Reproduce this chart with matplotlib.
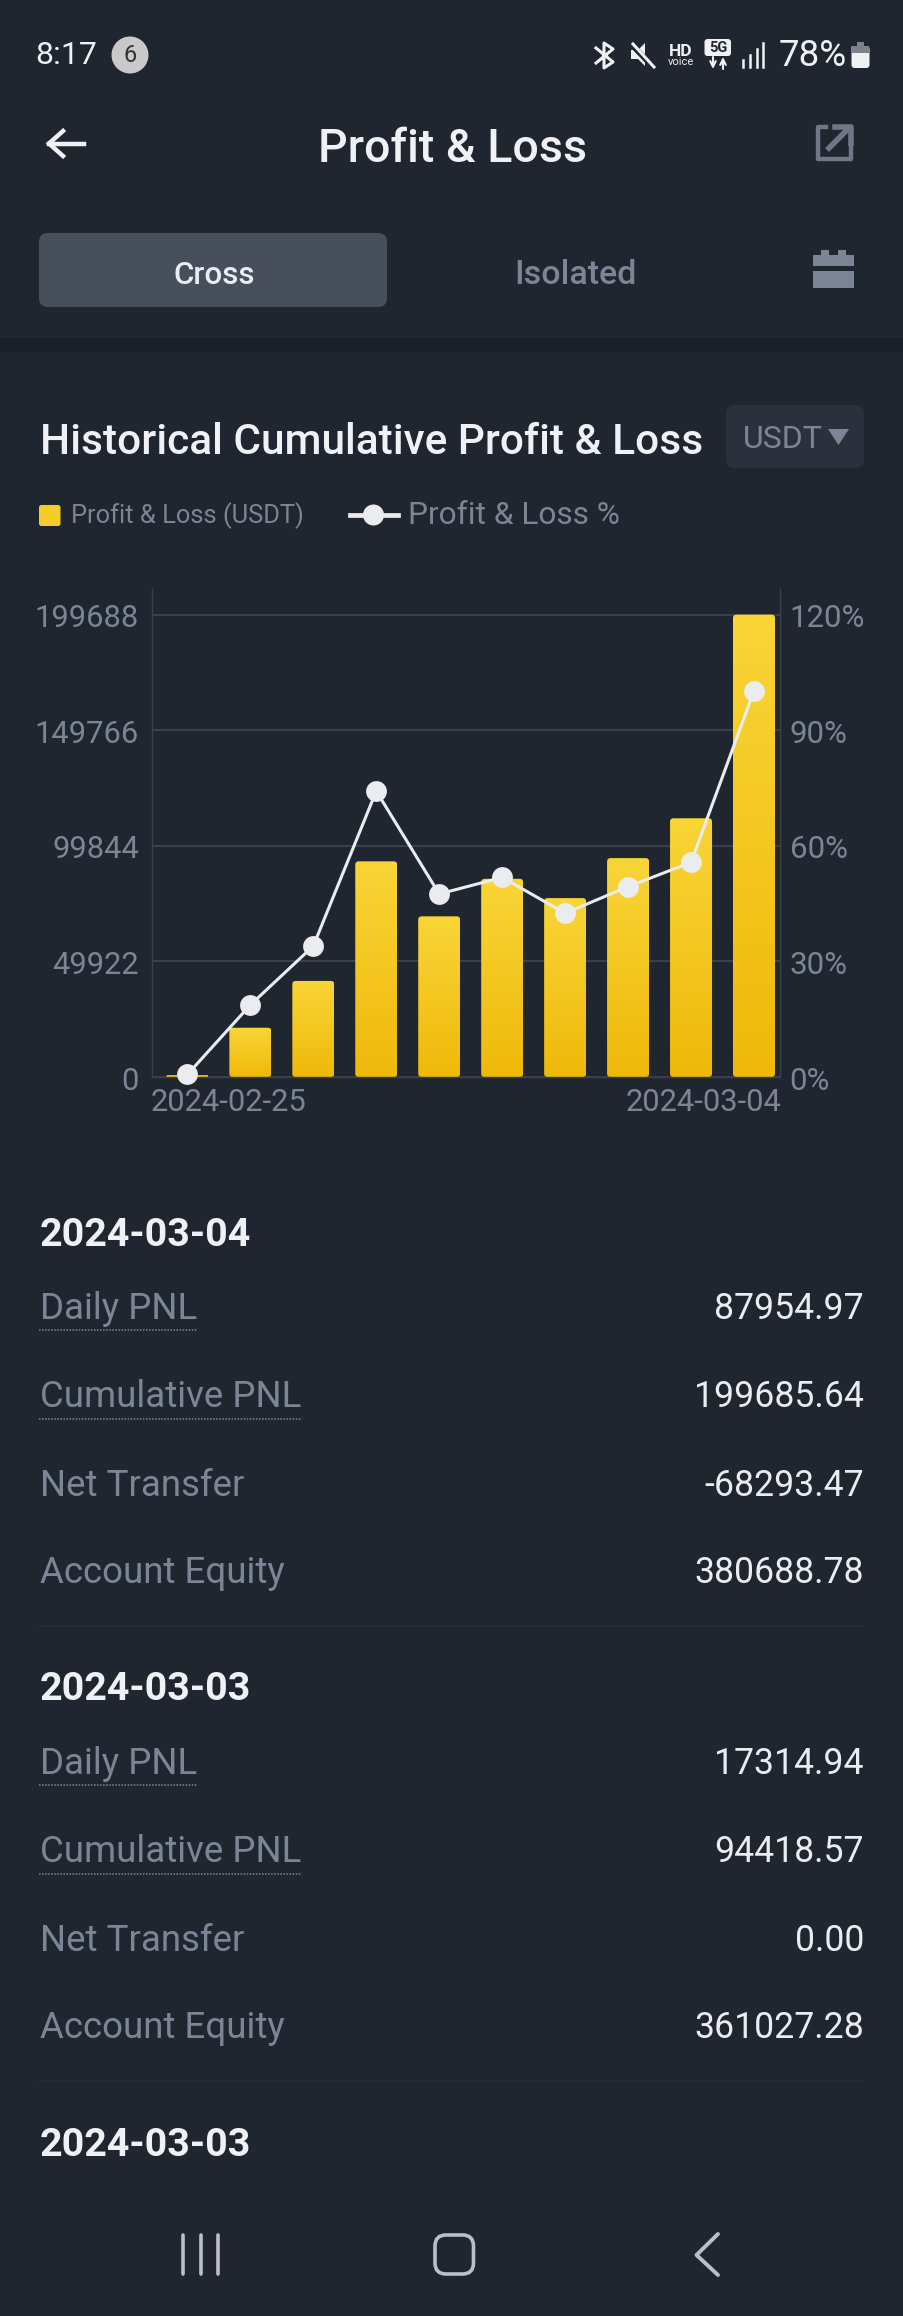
import numpy as np
import matplotlib
matplotlib.use('Agg')
import matplotlib.pyplot as plt
from matplotlib.colors import to_rgb
from matplotlib.patches import FancyBboxPatch, Rectangle, Ellipse, Polygon
from matplotlib.transforms import ScaledTranslation

plt.rcParams['font.family'] = ['Roboto', 'DejaVu Sans']

# chart data
pnl_usdt = [800, 21280, 41480, 93135, 69390, 85580, 77255, 94530, 111730, 199688]
pnl_pct = [0.65, 18.7, 34.0, 74.2, 47.5, 51.8, 42.5, 49.4, 55.7, 100.2]
left_ticks = [0, 49922, 99844, 149766, 199688]
right_ticks = [0, 30, 60, 90, 120]
right_labels = ['0%', '30%', '60%', '90%', '120%']
date_labels = ['2024-02-25', '2024-03-04']

# list under the chart
row_names = ['Daily PNL', 'Cumulative PNL', 'Net Transfer', 'Account Equity']
section_dates = ['2024-03-04', '2024-03-03', '2024-03-03']
section_rows = [
    ['87954.97', '199685.64', '-68293.47', '380688.78'],
    ['17314.94', '94418.57', '0.00', '361027.28'],
]

BG = '#1f2630'
WHITE = '#eaecef'
GREY = '#7b8595'
GRID = '#3a414c'
W, H = 904, 2316

fig = plt.figure(figsize=(W / 100, H / 100), dpi=100, facecolor=BG)

# whole-page layer in pixel coordinates
page = fig.add_axes([0, 0, 1, 1])
page.set_xlim(0, W)
page.set_ylim(H, 0)
page.axis('off')


def label(x, y, s, size, color=WHITE, ha='left', weight='normal', **kw):
    return page.text(x, y, s, fontsize=size, color=color, ha=ha, va='center',
                     fontweight=weight, **kw)


def box(x0, y0, x1, y1, r, color, **kw):
    page.add_patch(FancyBboxPatch((x0, y0), x1 - x0, y1 - y0,
                                  boxstyle=f'round,pad=0,rounding_size={r}',
                                  fc=color, ec='none', **kw))


# status bar
label(35, 56, '8:17', 23, '#f0f1f3')
page.add_patch(Ellipse((130, 55), 37, 37, fc='#c9c9c9', ec='none'))
label(130, 55, '6', 17, '#333333', ha='center')
page.plot([596, 613, 604, 604, 613, 596], [48, 62, 68, 43, 49, 63], color='#f0f1f3', lw=2.2)
page.add_patch(Polygon([[631, 50], [638, 50], [645, 43], [645, 66], [638, 59], [631, 59]], fc='#f0f1f3', ec='none'))
page.plot([631, 654], [44, 68], color=BG, lw=4)
page.plot([633, 654], [44, 67], color='#f0f1f3', lw=2.2)
label(681, 51, 'HD', 12.5, '#f0f1f3', ha='center', weight='bold')
label(681, 62, 'voice', 8, '#f0f1f3', ha='center')
box(704.5, 39, 731, 56, 3, '#f0f1f3')
label(718, 47.5, '5G', 10.5, BG, ha='center', weight='bold')
page.annotate('', xy=(713, 57), xytext=(713, 69), arrowprops=dict(arrowstyle='<-', color='#f0f1f3', lw=1.5, shrinkA=0, shrinkB=0))
page.annotate('', xy=(723, 57), xytext=(723, 69), arrowprops=dict(arrowstyle='->', color='#f0f1f3', lw=1.5, shrinkA=0, shrinkB=0))
for sx, sy in zip([743, 750, 757, 763], [60, 55, 49, 43]):
    page.plot([sx, sx], [sy, 67], color='#f0f1f3', lw=1.8)
label(779, 56, '78%', 26.5, '#f0f1f3')
box(851.5, 46, 869.5, 68, 3, '#f0f1f3')
page.add_patch(Rectangle((851.5, 46), 18, 7, fc='#7d818a', ec='none'))
page.add_patch(Rectangle((857, 42), 7, 4, fc='#7d818a', ec='none'))

# header
page.plot([84, 49], [143.5, 143.5], color='#f0f1f3', lw=3.2)
page.plot([63, 49, 63], [131, 143.5, 156], color='#f0f1f3', lw=3.2, solid_joinstyle='miter')
label(453, 149, 'Profit & Loss', 33.5, '#eff1f4', ha='center', weight='medium')
page.plot([826, 818, 818, 851, 851], [127, 127, 159, 159, 147], color='#6f7887', lw=3.2)
page.plot([829, 848], [148, 129], color='#6f7887', lw=4)
page.plot([835, 851, 851], [127, 127, 143], color='#6f7887', lw=4)

# tabs
box(39, 233, 387, 307, 9, '#474f5c')
label(214, 275, 'Cross', 22.6, '#eaecef', ha='center', weight='medium')
label(575, 275, 'Isolated', 24.5, GREY, ha='center', weight='medium')
page.add_patch(Rectangle((813, 255), 41, 11, fc=GREY, ec='none'))
page.add_patch(Rectangle((821, 250), 8, 6, fc=GREY, ec='none'))
page.add_patch(Rectangle((838, 250), 8, 6, fc=GREY, ec='none'))
page.add_patch(Rectangle((813, 271), 41, 17, fc=GREY, ec='none'))
page.add_patch(Rectangle((0, 338), W, 14, fc='#191e27', ec='none'))

# section title and legend
label(40, 442, 'Historical Cumulative Profit & Loss', 30.5, '#eff1f4', weight='medium')
box(726, 405, 864, 468, 9, '#2a313c')
label(743, 440, 'USDT', 23, GREY)
page.add_patch(Polygon([[828, 429], [849, 429], [838.5, 445]], fc=GREY, ec='none'))
box(39, 505, 60.5, 526, 2.5, '#f6cd28')
label(71, 516, 'Profit & Loss (USDT)', 18.4, GREY)
page.plot([350, 398], [515, 515], color=WHITE, lw=3.4)
page.add_patch(Ellipse((373.5, 515), 21, 21, fc=WHITE, ec='none'))
label(408, 515, 'Profit & Loss %', 22.8, GREY)

# chart: axis box runs from x 151.6 to 780 and y 589 to 1077 px
ax_left, ax_right, ax_top, ax_bottom = 151.6, 780, 589, 1077
top_grid = 614.6
head_room = (ax_bottom - ax_top) / (ax_bottom - top_grid)
# first bar sits at 187.4 px, last at 754 px
x_px = (754 - 187.4) / 9
x_lim = (-(187.4 - ax_left) / x_px, (ax_right - 187.4) / x_px)

ax = fig.add_axes([ax_left / W, 1 - ax_bottom / H, (ax_right - ax_left) / W, (ax_bottom - ax_top) / H])
ax.patch.set_alpha(0)
ax.set_xlim(*x_lim)
ax.set_ylim(0, left_ticks[-1] * head_room)
ax.set_axisbelow(True)
ax.grid(axis='y', color=GRID, lw=1.4)
ax.set_yticks(left_ticks)
ax.set_yticklabels([str(v) for v in left_ticks])
ax.tick_params(axis='both', length=0, colors=GREY, labelsize=22.2)
ax.tick_params(axis='y', pad=9)
ax.set_xticks(list(x_lim))
ax.set_xticklabels(date_labels)
ax.tick_params(axis='x', pad=8)
ax.get_xticklabels()[0].set_ha('left')
ax.get_xticklabels()[1].set_ha('right')
for name, spine in ax.spines.items():
    spine.set_color(GRID)
    spine.set_linewidth(1.0)
ax.spines['top'].set_visible(False)

xs = np.arange(len(pnl_usdt))
bars = ax.bar(xs, pnl_usdt, width=42 / x_px, color='none')

# yellow gradient inside rounded bars
y_px = (ax_bottom - ax_top) / ax.get_ylim()[1]
top_c, bot_c = np.array(to_rgb('#f9d537')), np.array(to_rgb('#efb90a'))
ramp = np.linspace(0, 1, 256)[:, None, None]
grad = top_c[None, None, :] * (1 - ramp) + bot_c[None, None, :] * ramp
for b in bars:
    bx, bw, bh = b.get_x(), b.get_width(), b.get_height()
    r_px = min(3.5, bh * y_px / 2)
    clip = FancyBboxPatch((bx, 0), bw, bh, boxstyle=f'round,pad=0,rounding_size={r_px / x_px}',
                          mutation_aspect=(1 / y_px) / (1 / x_px), fc='none', ec='none',
                          transform=ax.transData)
    ax.add_patch(clip)
    im = ax.imshow(grad, extent=(bx, bx + bw, 0, bh), aspect='auto', zorder=2, origin='upper')
    im.set_clip_path(clip)
ax.set_xlim(*x_lim)
ax.set_ylim(0, left_ticks[-1] * head_room)

ax2 = ax.twinx()
ax2.patch.set_alpha(0)
ax2.set_ylim(0, right_ticks[-1] * head_room)
ax2.set_yticks(right_ticks)
ax2.set_yticklabels(right_labels)
ax2.tick_params(axis='y', length=0, colors=GREY, labelsize=22.5, pad=7)
for spine in ax2.spines.values():
    spine.set_visible(False)
ax2.plot(xs, pnl_pct, color=WHITE, lw=2.2, marker='o', ms=15, mec='none', clip_on=False)

# nudge the tick labels a little
nudge = ScaledTranslation(0, -1 / 100, fig.dpi_scale_trans)
for t in ax.get_yticklabels() + ax2.get_yticklabels():
    t.set_transform(t.get_transform() + nudge)
xl0, xl1 = ax.get_xticklabels()
xl0.set_transform(xl0.get_transform() + ScaledTranslation(-1 / 100, 0, fig.dpi_scale_trans))
xl1.set_transform(xl1.get_transform() + ScaledTranslation(2 / 100, 0, fig.dpi_scale_trans))

# list sections
section_step = 455
row_y = [1309, 1397, 1486, 1573]
for i, date in enumerate(section_dates):
    dy = i * section_step
    label(40, 1235 + dy, date, 28.4, '#eff1f4', weight='bold')
    if i >= len(section_rows):
        continue
    for name, val, ry in zip(row_names, section_rows[i], row_y):
        t = label(40, ry + dy, name, 26.4, GREY)
        label(864, ry + dy, val, 25.7, WHITE, ha='right')
    page.plot([39, 197], [1330 + dy, 1330 + dy], color=GREY, lw=1.1, ls=(0, (1, 1)))
    page.plot([39, 302], [1419 + dy, 1419 + dy], color=GREY, lw=1.1, ls=(0, (1, 1)))
    page.plot([39, 864], [1626 + dy, 1626 + dy], color='#262d37', lw=1.2)

# android nav bar
NAV = '#bdbfc5'
for nx in [183, 200.6, 218]:
    page.plot([nx, nx], [2235, 2274], color=NAV, lw=2.6, solid_capstyle='round')
page.add_patch(FancyBboxPatch((435, 2235), 38.5, 39, boxstyle='round,pad=0,rounding_size=11',
                              fc='none', ec=NAV, lw=2.6))
page.plot([718, 696.5, 718], [2234, 2255, 2275], color=NAV, lw=2.8, solid_capstyle='round')

fig.savefig('out.png', dpi=100, facecolor=BG)
